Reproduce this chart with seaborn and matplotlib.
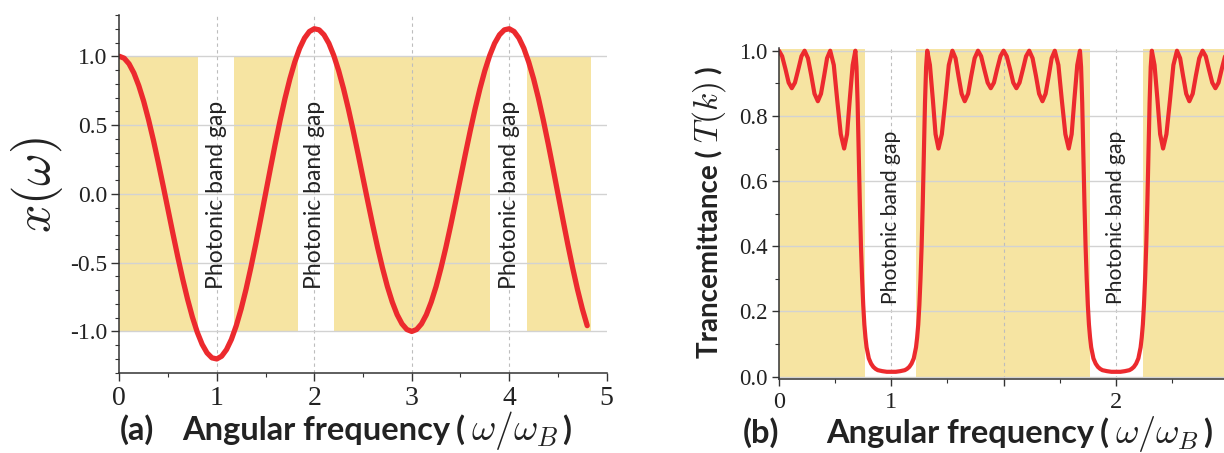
import numpy as np
import pandas as pd
import matplotlib
matplotlib.use("Agg")
import matplotlib.pyplot as plt
import seaborn as sns
from matplotlib.ticker import MultipleLocator, FixedLocator, FixedFormatter

# ---------------- data ----------------
# panel (a): x(omega)
omega_a = [0.00, 0.05, 0.10, 0.15, 0.20, 0.25, 0.30, 0.35, 0.40, 0.45,
           0.50, 0.55, 0.60, 0.65, 0.70, 0.75, 0.80, 0.85, 0.90, 0.95,
           1.00, 1.05, 1.10, 1.15, 1.20, 1.25, 1.30, 1.35, 1.40, 1.45,
           1.50, 1.55, 1.60, 1.65, 1.70, 1.75, 1.80, 1.85, 1.90, 1.95,
           2.00, 2.05, 2.10, 2.15, 2.20, 2.25, 2.30, 2.35, 2.40, 2.45,
           2.50, 2.55, 2.60, 2.65, 2.70, 2.75, 2.80, 2.85, 2.90, 2.95,
           3.00, 3.05, 3.10, 3.15, 3.20, 3.25, 3.30, 3.35, 3.40, 3.45,
           3.50, 3.55, 3.60, 3.65, 3.70, 3.75, 3.80, 3.85, 3.90, 3.95,
           4.00, 4.05, 4.10, 4.15, 4.20, 4.25, 4.30, 4.35, 4.40, 4.45,
           4.50, 4.55, 4.60, 4.65, 4.70, 4.75, 4.80]
x_a = [1.000, 0.986, 0.945, 0.878, 0.786, 0.673, 0.539, 0.390, 0.228, 0.058,
       -0.115, -0.289, -0.458, -0.618, -0.765, -0.896, -1.006, -1.094, -1.156, -1.192,
       -1.200, -1.180, -1.132, -1.058, -0.958, -0.836, -0.694, -0.535, -0.364, -0.184,
       0.000, 0.184, 0.364, 0.535, 0.694, 0.836, 0.958, 1.058, 1.132, 1.180,
       1.200, 1.192, 1.156, 1.094, 1.006, 0.896, 0.765, 0.618, 0.458, 0.289,
       0.115, -0.058, -0.228, -0.390, -0.539, -0.673, -0.786, -0.878, -0.945, -0.986,
       -1.000, -0.986, -0.945, -0.878, -0.786, -0.673, -0.539, -0.390, -0.228, -0.058,
       0.115, 0.289, 0.458, 0.618, 0.765, 0.896, 1.006, 1.094, 1.156, 1.192,
       1.200, 1.180, 1.132, 1.058, 0.958, 0.836, 0.694, 0.535, 0.364, 0.184,
       0.000, -0.184, -0.364, -0.535, -0.694, -0.836, -0.958]
band_a_start = [0.0, 1.176, 2.202, 4.18]
band_a_end = [0.81, 1.83, 3.802, 4.835]
gap_a = [1, 2, 4]
xticks_a = [0, 1, 2, 3, 4, 5]

# panel (b): transmittance T(k)
u_b = [0.500, 0.514, 0.529, 0.543, 0.557, 0.571, 0.586, 0.600, 0.614, 0.629, 0.644, 0.658, 0.673,
       0.687, 0.701, 0.714, 0.728, 0.744, 0.759, 0.775, 0.790, 0.803, 0.815, 0.828, 0.840,
       0.845, 0.850, 0.855, 0.860, 0.865, 0.870, 0.875, 0.880, 0.885, 0.890, 0.900, 0.910,
       0.920, 0.930, 0.940, 0.960, 0.980, 1.000,
       1.020, 1.040, 1.060, 1.070, 1.080, 1.090, 1.100, 1.110, 1.115, 1.120, 1.125, 1.130,
       1.135, 1.140, 1.145, 1.150, 1.155, 1.160,
       1.172, 1.185, 1.197, 1.210, 1.225, 1.241, 1.256, 1.272, 1.286, 1.299, 1.313, 1.327,
       1.342, 1.356, 1.371, 1.386, 1.400, 1.414, 1.429, 1.443, 1.457, 1.471, 1.486, 1.500,
       1.514, 1.529, 1.543, 1.557, 1.571, 1.586, 1.600, 1.614, 1.629, 1.644, 1.658, 1.673,
       1.687, 1.701, 1.714, 1.728, 1.744, 1.759, 1.775, 1.790, 1.803, 1.815, 1.828, 1.840,
       1.845, 1.850, 1.855, 1.860, 1.865, 1.870, 1.875, 1.880, 1.885, 1.890, 1.900, 1.910,
       1.920, 1.930, 1.940, 1.960, 1.980, 2.000,
       2.020, 2.040, 2.060, 2.070, 2.080, 2.090, 2.100, 2.110, 2.115, 2.120, 2.125, 2.130,
       2.135, 2.140, 2.145, 2.150, 2.155, 2.160,
       2.172, 2.185, 2.197, 2.210, 2.225, 2.241, 2.256, 2.272, 2.286, 2.299, 2.313, 2.327,
       2.342, 2.356, 2.371, 2.386, 2.400, 2.414, 2.429, 2.443, 2.457, 2.471, 2.486]
t_b = [1.0, 0.983, 0.943, 0.902, 0.885, 0.902, 0.943, 0.983, 1.0, 0.977, 0.923, 0.868, 0.845,
       0.868, 0.923, 0.977, 1.0, 0.956, 0.85, 0.744, 0.70, 0.744, 0.85, 0.956, 1.0,
       0.95, 0.84, 0.68, 0.53, 0.40, 0.30, 0.22, 0.16, 0.12, 0.09, 0.056, 0.04,
       0.03, 0.024, 0.02, 0.017, 0.015, 0.015,
       0.015, 0.017, 0.02, 0.024, 0.03, 0.04, 0.056, 0.09, 0.12, 0.16, 0.22, 0.30,
       0.40, 0.53, 0.68, 0.84, 0.95, 1.0,
       0.956, 0.85, 0.744, 0.70, 0.744, 0.85, 0.956, 1.0, 0.977, 0.923, 0.868, 0.845,
       0.868, 0.923, 0.977, 1.0, 0.983, 0.943, 0.902, 0.885, 0.902, 0.943, 0.983, 1.0,
       0.983, 0.943, 0.902, 0.885, 0.902, 0.943, 0.983, 1.0, 0.977, 0.923, 0.868, 0.845,
       0.868, 0.923, 0.977, 1.0, 0.956, 0.85, 0.744, 0.70, 0.744, 0.85, 0.956, 1.0,
       0.95, 0.84, 0.68, 0.53, 0.40, 0.30, 0.22, 0.16, 0.12, 0.09, 0.056, 0.04,
       0.03, 0.024, 0.02, 0.017, 0.015, 0.015,
       0.015, 0.017, 0.02, 0.024, 0.03, 0.04, 0.056, 0.09, 0.12, 0.16, 0.22, 0.30,
       0.40, 0.53, 0.68, 0.84, 0.95, 1.0,
       0.956, 0.85, 0.744, 0.70, 0.744, 0.85, 0.956, 1.0, 0.977, 0.923, 0.868, 0.845,
       0.868, 0.923, 0.977, 1.0, 0.983, 0.943, 0.902, 0.885, 0.902, 0.943, 0.983]
band_b_start = [0.5, 1.110, 2.121]
band_b_end = [0.883, 1.885, 2.49]
gap_b = [1, 2]
xticks_b = [0.5, 1.0, 1.5, 2.0]
xticklabels_b = ["0", "1", "", "2"]

# ---------------- style ----------------
sns.set_theme(style="ticks")
plt.rcParams["font.family"] = ["Liberation Serif", "DejaVu Serif"]
plt.rcParams["mathtext.fontset"] = "cm"
plt.rcParams["axes.unicode_minus"] = False

YELLOW = "#F6E4A2"
RED = "#EC2A2E"
HGRID = "#D2D2D2"
VGRID = "#BDBDBD"
DARK = "#333333"
TXT = "#222222"
SANS = "Lato"

W, H = 1224, 453
fig = plt.figure(figsize=(W / 100, H / 100), dpi=100)
axA = fig.add_axes([119.3 / W, (H - 372.7) / H, 487.4 / W, 357.7 / H])
axB = fig.add_axes([779.0 / W, (H - 379.3) / H, 445.0 / W, 331.0 / H])

df_a = pd.DataFrame({"omega": omega_a, "x": x_a})
df_b = pd.DataFrame({"u": u_b, "T": t_b})

# ---------------- panel (a) ----------------
for s, e in zip(band_a_start, band_a_end):
    axA.fill_between([s, e], -1, 1, color=YELLOW, lw=0, zorder=0.2)
sns.lineplot(data=df_a, x="omega", y="x", ax=axA, color=RED, lw=3.8,
             estimator=None, sort=False, zorder=3)
axA.lines[-1].set_solid_joinstyle("round")
axA.lines[-1].set_solid_capstyle("round")
axA.set_xlim(0, 5)
axA.set_ylim(-1.3, 1.3)
axA.xaxis.set_major_locator(FixedLocator(xticks_a))
axA.xaxis.set_minor_locator(MultipleLocator(0.5))
axA.yaxis.set_major_locator(MultipleLocator(0.5))
axA.yaxis.set_minor_locator(MultipleLocator(0.1))
axA.set_xlabel("")
axA.set_ylabel("")
for g in gap_a:
    axA.text(g, -0.01, "Photonic band gap", rotation=90, ha="center", va="center",
             family=SANS, fontsize=16.5, color=TXT, zorder=4)

# ---------------- panel (b) ----------------
for s, e in zip(band_b_start, band_b_end):
    axB.fill_between([s, e], -0.005, 1.005, color=YELLOW, lw=0, zorder=0.2)
sns.lineplot(data=df_b, x="u", y="T", ax=axB, color=RED, lw=3.0,
             estimator=None, sort=False, zorder=3)
axB.lines[-1].set_solid_joinstyle("round")
axB.set_xlim(0.5, 2.4813)
axB.set_ylim(-0.008, 1.0074)
axB.xaxis.set_major_locator(FixedLocator(xticks_b))
axB.xaxis.set_major_formatter(FixedFormatter(xticklabels_b))
axB.xaxis.set_minor_locator(FixedLocator([0.75, 1.25, 1.75, 2.25]))
axB.yaxis.set_major_locator(MultipleLocator(0.2))
axB.yaxis.set_minor_locator(MultipleLocator(0.1))
axB.set_xlabel("")
axB.set_ylabel("")
for g in gap_b:
    axB.text(g, 0.49, "Photonic band gap", rotation=90, ha="center", va="center",
             family=SANS, fontsize=15.2, color=TXT, zorder=4)

# ---------------- common axis styling ----------------
for ax, xs, ys, mlen in ((axA, 20, 17, 5.5), (axB, 17.5, 16.5, 5.0)):
    ax.set_axisbelow(True)
    ax.yaxis.grid(True, which="major", color=HGRID, lw=1.0, ls="-")
    ax.xaxis.grid(True, which="major", color=VGRID, lw=0.8, ls=(0, (3, 3)))
    for sp in ("top", "right"):
        ax.spines[sp].set_visible(False)
    for sp in ("left", "bottom"):
        ax.spines[sp].set_color(DARK)
        ax.spines[sp].set_linewidth(1.1)
        ax.spines[sp].set_zorder(5)
    ax.tick_params(which="major", direction="out", length=mlen, width=1.0, color=DARK)
    ax.tick_params(which="minor", direction="out", length=3.0, width=0.8, color=DARK)
    ax.tick_params(axis="x", which="major", labelsize=xs, pad=4, labelcolor=TXT)
    ax.tick_params(axis="y", which="major", labelsize=ys, pad=3, labelcolor=TXT)
    ax.set_facecolor("none")

fig.canvas.draw()
for t in axA.xaxis.get_major_ticks():
    if t.get_loc() in (0, 5):
        t.gridline.set_visible(False)
for t in axB.xaxis.get_major_ticks():
    if abs(t.get_loc() - 0.5) < 1e-9:
        t.gridline.set_visible(False)

# ---------------- labels ----------------
renderer = fig.canvas.get_renderer()
sans_kw = dict(family=SANS, weight="bold", color=TXT)


def chain_h(x0, y0, pieces):
    pos = x0
    for s, kw, gap in pieces:
        t = fig.text(pos / W, y0 / H, s, ha="left", va="baseline", **kw)
        bb = t.get_window_extent(renderer)
        pos = bb.x1 + gap


def chain_v(x0, y0, pieces):
    pos = y0
    for s, kw, gap in pieces:
        t = fig.text(x0 / W, pos / H, s, rotation=90, rotation_mode="anchor",
                     ha="left", va="baseline", **kw)
        bb = t.get_window_extent(renderer)
        pos = bb.y1 + gap


math_kw = dict(color=TXT)
# x labels
chain_h(120, H - 440, [("(a)", dict(sans_kw, fontsize=23.5), 0)])
chain_h(182, H - 440, [("Angular frequency", dict(sans_kw, fontsize=23.5), 6),
                       ("(", dict(sans_kw, fontsize=23.5), 6),
                       (r"$\omega/\omega_B$", dict(math_kw, fontsize=27), 4),
                       (")", dict(sans_kw, fontsize=23.5), 0)])
chain_h(743, H - 443, [("(b)", dict(sans_kw, fontsize=23.5), 0)])
chain_h(826, H - 443, [("Angular frequency", dict(sans_kw, fontsize=23.5), 6),
                       ("(", dict(sans_kw, fontsize=23.5), 6),
                       (r"$\omega/\omega_B$", dict(math_kw, fontsize=26), 4),
                       (")", dict(sans_kw, fontsize=23.5), 0)])
# y labels
fig.text(37 / W, 1 - 185 / H, r"$x(\omega)$", rotation=90, ha="center", va="center",
         fontsize=36, color=TXT)
chain_v(718, H - 358, [("Trancemittance (", dict(sans_kw, fontsize=20), 7),
                       (r"$T(k)$", dict(math_kw, fontsize=24), 7),
                       (")", dict(sans_kw, fontsize=20), 0)])

fig.savefig("out.png", dpi=100)
